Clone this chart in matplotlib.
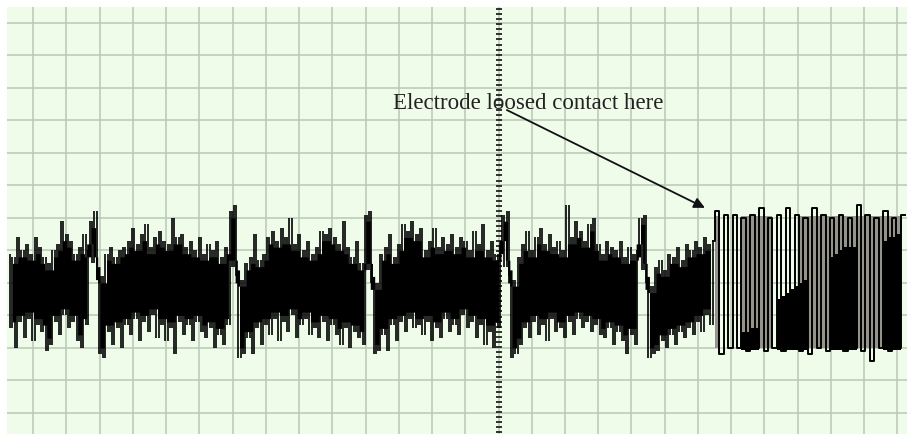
import numpy as np
import matplotlib.pyplot as plt

# EEG trace, one grid division = 15 samples, amplitude grid = 10 units
fs = 15
t_start = -0.76

seg_a = [9, -14, 8, -20, 14, -12, 10, -17, 12, -11, 9, -18, 14, -13, 11, -15,
         8, -21, 6, -19, 10, -12, 12, -16, 19, -10, 15, -14, 13, -12, 9, -18,
         11, -20, 15, -13, 10]
bump_1 = [19, 6, 22, 3, -22, 2, -23]
seg_b = [9, -15, 11, -19, 8, -14, 10, -20, 11, -13, 13, -16, 17, -11, 12, -18,
         15, -12, 18, -15, 11, -10, 14, -17, 16, -13, 13, -18, 12, -14, 20, -22,
         14, -12, 15, -16, 11, -13, 13, -18, 10, -12, 14, -15, 9, -17, 12, -14,
         10, -20, 13, -16, 8, -19, 11, -13]
bump_2 = [22, 5, 24, 2, -23, 1, -22]
seg_c = [6, -17, 8, -22, 15, -14, 7, -19, 9, -13, 14, -16, 16, -11, 13, -18,
         17, -12, 14, -15, 20, -10, 12, -17, 15, -13, 10, -11, 13, -16, 9, -14,
         11, -17, 16, -12, 15, -18, 17, -13, 14, -16, 12, -19, 19, -14, 11, -20,
         8, -15, 13, -17, 6, -19]
bump_3 = [21, 4, 22, 0, -22, 0, -21]
seg_d = [9, -16, 11, -21, 15, -13, 8, -18, 12, -12, 18, -15, 16, -11, 19, -14,
         15, -13, 17, -16, 10, -12, 13, -18, 17, -14, 11, -17, 14, -11, 12, -15,
         15, -13, 11, -16, 14, -10, 13, -14, 10, -12, 16, -17, 12, -13, 18, -19,
         10, -15, 13, -20, 9, -14, 11]
bump_4 = [21, 5, 22, 2, -23, 1, -22]
seg_e = [8, -19, 12, -14, 16, -17, 10, -12, 14, -16, 17, -13, 12, -18, 15, -11,
         11, -15, 13, -14, 10, -17, 24, -12, 14, -16, 19, -11, 16, -14, 13, -12,
         18, -15, 20, -13, 12, -16, 9, -17, 13, -14, 11, -19, 10, -15, 13, -18,
         8, -22, 11, -16, 9, -19, 10]
bump_5 = [20, 4, 21, 0, -23, -1, -22]
seg_f = [5, -21, 7, -18, 4, -20, 9, -16, 8, -19, 11, -15, 7, -17, 12, -14,
         10, -16, 13, -12, 11, -15, 14, -10, 12, -13, 13]

# after the electrode came loose: the trace flips between two rails
loose_levels = [22, -22, 21, -20, 21, -20, 20, -21, 21, -20, 23, -21, 20, -20,
                21, -21, 23, -20, 21, -21, 20, -22, 23, -20, 21, -21, 20, -20,
                21, -21, 20, -20, 24, -21, 21, -24, 20, -20, 22, -21, 20, -20, 21]
# top of the dense (black) part near the lower rail, nan = none
loose_dense = [np.nan] * 6 + [-15, -15, -14, -14, -13] + [np.nan] * 3 + \
              [-5, -4, -3, -2, -1, 0, 1, 1] + [np.nan] * 4 + \
              [8, 9, 10, 11, 11, 11, 10] + [np.nan] * 5 + [13, 14, 14, 15, 14]
# spans where the fast swings blur into grey
loose_grey = [1, 1] + [0] * 4 + [1] * 8 + [0] * 5 + [1] * 24

trace = np.array(seg_a + bump_1 + seg_b + bump_2 + seg_c + bump_3 +
                 seg_d + bump_4 + seg_e + bump_5 + seg_f, dtype=float)
t = t_start + np.arange(len(trace)) / fs

# strokes between successive samples, and the part that neighbours share
lo = np.minimum(trace[:-1], trace[1:])
hi = np.maximum(trace[:-1], trace[1:])
core_top = np.minimum(np.minimum(hi[:-2], hi[1:-1]), hi[2:]) - 2
core_bot = np.maximum(np.maximum(lo[:-2], lo[1:-1]), lo[2:]) + 2

lv = np.array(loose_levels, dtype=float)
t_lv = t[-1] + (1 + 2 * np.arange(len(lv))) / fs
t_end = t_lv[-1] + 2 / fs

fig = plt.figure(figsize=(9.09, 4.34), dpi=100)
ax = fig.add_axes([7 / 909, 0, 900 / 909, 427 / 434])
ax.set_facecolor("#f0fcea")
ax.set_xlim(-0.79, 26.29)
ax.set_ylim(-46.5, 84.9)

ax.set_xticks(np.arange(0, 27))
ax.set_yticks(np.arange(-40, 81, 10))
ax.grid(True, color="#b9c8b4", lw=1.1)
ax.tick_params(length=0, labelbottom=False, labelleft=False)
for s in ax.spines.values():
    s.set_visible(False)

# centre marker column
yy = np.arange(-46, 85, 1.55)
ax.plot(np.full_like(yy, 14.0), yy, ls="none", marker="_", ms=4.5, mew=1.3,
        color="#222222", zorder=2)

# grey blur and dense blocks of the loose section
grey = np.array(loose_grey, dtype=bool)
ax.fill_between(np.r_[t_lv, t_end], -20, 20.5, where=np.r_[grey, False],
                step="post", color="#94948c", lw=0, zorder=3)
dense = np.array(loose_dense, dtype=float)
ax.fill_between(np.r_[t_lv, t_end], -20.5,
                np.nan_to_num(np.r_[dense, np.nan], nan=-20.5),
                where=np.r_[~np.isnan(dense), False], step="post",
                color="black", lw=0, zorder=4)

ax.fill_between(t[2:-1], core_bot, core_top, step="mid", color="black", lw=0,
                zorder=4)
ax.vlines(t[1:], lo, hi, color="black", lw=1.2, zorder=5)
ax.plot(np.r_[t[-1], t_lv, t_end], np.r_[trace[-1], lv, lv[-1]], color="black",
        lw=1.4, drawstyle="steps-post", zorder=5)

ax.text(14.89, 53.4, "Electrode loosed contact here", ha="center", va="baseline",
        fontsize=16.5, family="Liberation Serif", color="#222222", zorder=6)
ax.annotate("", xy=(20.21, 23.1), xytext=(14.25, 53.2),
            arrowprops=dict(arrowstyle="-|>", color="#111111", lw=1.3,
                            mutation_scale=16, shrinkA=0, shrinkB=0), zorder=6)

fig.savefig("out.png", dpi=100, facecolor="white")
